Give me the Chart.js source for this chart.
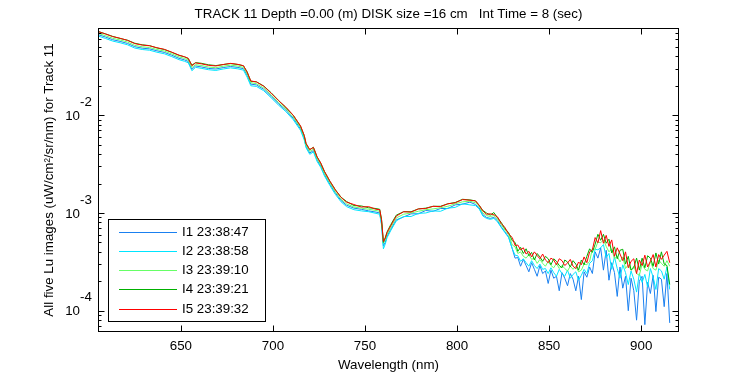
<!DOCTYPE html>
<html>
<head>
<meta charset="utf-8">
<script src="https://cdn.jsdelivr.net/npm/chart.js@4/dist/chart.umd.min.js"></script>
<style>
  html, body { margin: 0; padding: 0; background: #fff; }
</style>
</head>
<body>
<canvas id="luCanvas" width="750" height="375"></canvas>
<script>
var titleText = 'TRACK 11 Depth =0.00 (m) DISK size =16 cm   Int Time = 8 (sec)';
var xTitle = 'Wavelength (nm)';
var yTitle = 'All five Lu images (uW/cm\u00b2/sr/nm) for Track 11';
var xTicks = [650, 700, 750, 800, 850, 900];
var yTicks = [1e-4, 1e-3, 1e-2];
var yTickExp = ['-4', '-3', '-2'];
var seriesNames = ['I1 23:38:47', 'I2 23:38:58', 'I3 23:39:10', 'I4 23:39:21', 'I5 23:39:32'];
var seriesColors = ['#1a80f0', '#00e5ff', '#66ff66', '#00b000', '#ff0000'];

var wavelength = [
  605, 609, 613, 617, 621, 625, 629, 633, 637, 641,
  645, 649, 652, 654, 656, 658, 661, 665, 669, 673,
  677, 681, 684, 686, 688, 691, 695, 699, 703, 707,
  711, 715, 717, 718, 720, 722, 724, 726, 728, 731,
  734, 737, 740, 744, 748, 752, 756, 758, 759, 760,
  761, 762, 764, 767, 771, 775, 779, 783, 787, 791,
  795, 799, 803, 807, 810, 812, 814, 816, 818, 820,
  822, 824, 826, 828,
  830, 831.5, 833, 834.5, 836, 837.5, 839, 840.5, 842, 843.5,
  845, 846.5, 848, 849.5, 851, 852.5, 854, 855.5, 857, 858.5,
  860, 861.5, 863, 864.5, 866, 867.5, 869, 870.5, 872, 873.5,
  875, 876.5, 878, 879.5, 881, 882.5, 884, 885.5, 887, 888.5,
  890, 891.5, 893, 894.5, 896, 897.5, 899, 900.5, 902, 903.5,
  905, 906.5, 908, 909.5, 911, 912.5, 914, 915.5
];

var luI1 = [
  6.68e-2, 6.31e-2, 5.92e-2, 5.69e-2, 5.42e-2, 5.02e-2, 4.85e-2, 4.77e-2, 4.56e-2, 4.39e-2,
  4.11e-2, 3.82e-2, 3.68e-2, 3.55e-2, 2.95e-2, 3.19e-2, 3.12e-2, 3.01e-2, 2.97e-2, 3.07e-2,
  3.15e-2, 3.08e-2, 2.99e-2, 2.56e-2, 2.08e-2, 2.04e-2, 1.84e-2, 1.56e-2, 1.31e-2, 1.13e-2,
  9.3e-3, 7.24e-3, 5.78e-3, 4.79e-3, 4.10e-3, 4.35e-3, 3.47e-3, 3.01e-3, 2.46e-3, 1.96e-3,
  1.59e-3, 1.34e-3, 1.20e-3, 1.12e-3, 1.09e-3, 1.05e-3, 1.02e-3, 1.00e-3, 7.8e-4, 4.6e-4,
  5.0e-4, 5.8e-4, 6.8e-4, 8.5e-4, 9.1e-4, 9.8e-4, 9.8e-4, 1.06e-3, 1.04e-3, 1.11e-3,
  1.11e-3, 1.21e-3, 1.23e-3, 1.29e-3, 1.22e-3, 1.13e-3, 9.6e-4, 9.0e-4, 8.8e-4, 9.0e-4,
  8.3e-4, 7.2e-4, 6.4e-4, 5.7e-4,
  4.3e-4, 3.45e-4, 3.5e-4, 2.85e-4, 3.35e-4, 2.9e-4, 2.5e-4, 3.1e-4, 2.65e-4, 2.25e-4,
  2.9e-4, 2.4e-4, 2.55e-4, 1.9e-4, 2.6e-4, 2.15e-4, 2.25e-4, 1.6e-4, 2.45e-4, 2.15e-4,
  1.8e-4, 2.4e-4, 2.1e-4, 1.6e-4, 2.25e-4, 1.3e-4, 2.5e-4, 2.2e-4, 2.8e-4, 2.4e-4,
  4.0e-4, 3.45e-4, 4.4e-4, 2.6e-4, 4.15e-4, 2.05e-4, 3.1e-4, 2.45e-4, 1.4e-4, 2.8e-4,
  1.7e-4, 2.25e-4, 1.0e-4, 2.15e-4, 1.6e-4, 0.8e-4, 2.0e-4, 2.25e-4, 0.72e-4, 1.95e-4,
  1.5e-4, 2.3e-4, 0.98e-4, 2.2e-4, 2.1e-4, 1.1e-4, 2.4e-4, 0.75e-4
];

var luI2 = [
  6.46e-2, 6.10e-2, 5.73e-2, 5.51e-2, 5.25e-2, 4.86e-2, 4.70e-2, 4.62e-2, 4.41e-2, 4.25e-2,
  3.98e-2, 3.70e-2, 3.56e-2, 3.44e-2, 2.85e-2, 3.09e-2, 3.02e-2, 2.92e-2, 2.87e-2, 2.97e-2,
  3.05e-2, 2.98e-2, 2.89e-2, 2.45e-2, 2.00e-2, 1.97e-2, 1.78e-2, 1.51e-2, 1.27e-2, 1.09e-2,
  9.0e-3, 7.00e-3, 5.59e-3, 4.64e-3, 3.98e-3, 4.21e-3, 3.36e-3, 2.92e-3, 2.39e-3, 1.90e-3,
  1.54e-3, 1.30e-3, 1.16e-3, 1.08e-3, 1.05e-3, 1.03e-3, 9.9e-4, 9.7e-4, 7.5e-4, 4.3e-4,
  4.8e-4, 5.6e-4, 6.6e-4, 8.3e-4, 9.2e-4, 9.2e-4, 9.9e-4, 1.00e-3, 1.05e-3, 1.04e-3,
  1.12e-3, 1.14e-3, 1.24e-3, 1.21e-3, 1.19e-3, 1.10e-3, 9.3e-4, 8.8e-4, 8.6e-4, 8.8e-4,
  8.1e-4, 7.1e-4, 6.3e-4, 5.6e-4,
  4.3e-4, 3.7e-4, 3.65e-4, 3.2e-4, 3.4e-4, 3.1e-4, 2.85e-4, 3.25e-4, 2.9e-4, 2.7e-4,
  3.0e-4, 2.65e-4, 2.7e-4, 2.4e-4, 2.75e-4, 2.45e-4, 2.25e-4, 2.65e-4, 2.4e-4, 2.25e-4,
  2.6e-4, 2.15e-4, 2.35e-4, 2.5e-4, 2.05e-4, 2.3e-4, 2.65e-4, 2.4e-4, 3.05e-4, 3.25e-4,
  4.25e-4, 4.2e-4, 4.4e-4, 4.75e-4, 3.5e-4, 3.85e-4, 2.65e-4, 3.55e-4, 2.7e-4, 2.15e-4,
  2.95e-4, 2.45e-4, 1.85e-4, 2.55e-4, 2.1e-4, 1.55e-4, 2.4e-4, 1.95e-4, 2.35e-4, 1.75e-4,
  2.7e-4, 2.2e-4, 1.65e-4, 2.7e-4, 2.55e-4, 2.1e-4, 2.8e-4, 1.65e-4
];

var luI3 = [
  6.90e-2, 6.51e-2, 6.12e-2, 5.88e-2, 5.60e-2, 5.18e-2, 5.01e-2, 4.92e-2, 4.70e-2, 4.53e-2,
  4.24e-2, 3.95e-2, 3.80e-2, 3.67e-2, 3.08e-2, 3.29e-2, 3.23e-2, 3.11e-2, 3.06e-2, 3.17e-2,
  3.25e-2, 3.18e-2, 3.08e-2, 2.64e-2, 2.15e-2, 2.10e-2, 1.90e-2, 1.61e-2, 1.35e-2, 1.16e-2,
  9.6e-3, 7.47e-3, 5.96e-3, 4.94e-3, 4.26e-3, 4.49e-3, 3.58e-3, 3.11e-3, 2.54e-3, 2.03e-3,
  1.64e-3, 1.38e-3, 1.24e-3, 1.15e-3, 1.12e-3, 1.09e-3, 1.06e-3, 1.04e-3, 8.2e-4, 4.9e-4,
  5.3e-4, 6.0e-4, 7.1e-4, 8.9e-4, 9.7e-4, 1.00e-3, 1.04e-3, 1.08e-3, 1.10e-3, 1.13e-3,
  1.17e-3, 1.24e-3, 1.30e-3, 1.32e-3, 1.27e-3, 1.17e-3, 1.00e-3, 9.4e-4, 9.2e-4, 9.4e-4,
  8.6e-4, 7.6e-4, 6.7e-4, 6.0e-4,
  4.7e-4, 4.5e-4, 3.85e-4, 4.0e-4, 3.6e-4, 3.45e-4, 3.75e-4, 3.35e-4, 3.45e-4, 3.05e-4,
  3.35e-4, 3.05e-4, 2.85e-4, 3.2e-4, 2.9e-4, 2.75e-4, 3.05e-4, 2.7e-4, 2.9e-4, 2.7e-4,
  2.55e-4, 2.85e-4, 2.65e-4, 2.85e-4, 2.5e-4, 2.6e-4, 3.0e-4, 2.95e-4, 3.2e-4, 4.3e-4,
  4.25e-4, 5.05e-4, 4.95e-4, 5.3e-4, 4.55e-4, 4.0e-4, 4.3e-4, 3.4e-4, 3.6e-4, 3.15e-4,
  3.55e-4, 2.7e-4, 2.95e-4, 2.6e-4, 2.85e-4, 2.4e-4, 2.3e-4, 3.0e-4, 2.65e-4, 2.55e-4,
  3.2e-4, 2.7e-4, 2.6e-4, 3.3e-4, 3.05e-4, 2.85e-4, 3.25e-4, 2.85e-4
];

var luI4 = [
  7.20e-2, 6.80e-2, 6.40e-2, 6.10e-2, 5.85e-2, 5.45e-2, 5.25e-2, 5.15e-2, 4.88e-2, 4.70e-2,
  4.40e-2, 4.10e-2, 3.95e-2, 3.80e-2, 3.25e-2, 3.45e-2, 3.40e-2, 3.28e-2, 3.22e-2, 3.30e-2,
  3.38e-2, 3.30e-2, 3.20e-2, 2.78e-2, 2.22e-2, 2.20e-2, 1.99e-2, 1.70e-2, 1.42e-2, 1.20e-2,
  1.00e-2, 7.70e-3, 6.20e-3, 5.10e-3, 4.45e-3, 4.70e-3, 3.75e-3, 3.22e-3, 2.66e-3, 2.10e-3,
  1.72e-3, 1.45e-3, 1.31e-3, 1.19e-3, 1.18e-3, 1.13e-3, 1.11e-3, 1.09e-3, 8.6e-4, 5.0e-4,
  5.6e-4, 6.4e-4, 7.6e-4, 9.5e-4, 1.03e-3, 1.03e-3, 1.10e-3, 1.12e-3, 1.17e-3, 1.17e-3,
  1.24e-3, 1.28e-3, 1.38e-3, 1.36e-3, 1.33e-3, 1.20e-3, 1.06e-3, 1.00e-3, 9.5e-4, 1.01e-3,
  8.9e-4, 8.0e-4, 6.9e-4, 6.3e-4,
  5.2e-4, 5.0e-4, 4.05e-4, 4.45e-4, 3.85e-4, 4.3e-4, 3.65e-4, 3.95e-4, 3.3e-4, 3.85e-4,
  3.55e-4, 3.2e-4, 3.6e-4, 3.4e-4, 2.95e-4, 3.4e-4, 3.2e-4, 2.9e-4, 2.75e-4, 3.3e-4,
  3.15e-4, 2.8e-4, 3.25e-4, 3.0e-4, 2.6e-4, 3.3e-4, 2.95e-4, 3.6e-4, 4.3e-4, 3.95e-4,
  4.8e-4, 6.05e-4, 5.25e-4, 6.05e-4, 4.9e-4, 5.4e-4, 3.9e-4, 4.5e-4, 3.4e-4, 4.15e-4,
  4.25e-4, 3.0e-4, 3.6e-4, 2.6e-4, 2.75e-4, 3.45e-4, 2.6e-4, 3.45e-4, 2.75e-4, 3.65e-4,
  3.45e-4, 2.85e-4, 3.9e-4, 3.0e-4, 4.0e-4, 3.0e-4, 2.9e-4, 1.85e-4
];

var luI5 = [
  7.18e-2, 6.78e-2, 6.37e-2, 6.12e-2, 5.83e-2, 5.40e-2, 5.22e-2, 5.13e-2, 4.90e-2, 4.72e-2,
  4.42e-2, 4.11e-2, 3.96e-2, 3.82e-2, 3.21e-2, 3.43e-2, 3.36e-2, 3.24e-2, 3.19e-2, 3.30e-2,
  3.39e-2, 3.31e-2, 3.21e-2, 2.75e-2, 2.24e-2, 2.19e-2, 1.98e-2, 1.68e-2, 1.41e-2, 1.21e-2,
  1.00e-2, 7.78e-3, 6.21e-3, 5.15e-3, 4.44e-3, 4.68e-3, 3.73e-3, 3.24e-3, 2.65e-3, 2.11e-3,
  1.71e-3, 1.44e-3, 1.29e-3, 1.22e-3, 1.15e-3, 1.16e-3, 1.09e-3, 1.08e-3, 8.5e-4, 5.1e-4,
  5.5e-4, 6.3e-4, 7.4e-4, 9.3e-4, 1.03e-3, 1.02e-3, 1.10e-3, 1.11e-3, 1.17e-3, 1.16e-3,
  1.24e-3, 1.27e-3, 1.37e-3, 1.35e-3, 1.33e-3, 1.20e-3, 1.05e-3, 9.7e-4, 9.8e-4, 9.6e-4,
  9.1e-4, 7.8e-4, 7.1e-4, 6.1e-4,
  5.6e-4, 4.65e-4, 4.7e-4, 4.2e-4, 4.4e-4, 3.8e-4, 4.05e-4, 3.55e-4, 4.0e-4, 3.67e-4,
  3.4e-4, 3.8e-4, 3.3e-4, 3.1e-4, 3.45e-4, 3.3e-4, 2.95e-4, 3.4e-4, 3.25e-4, 2.9e-4,
  3.07e-4, 3.35e-4, 2.85e-4, 2.7e-4, 3.15e-4, 2.95e-4, 3.55e-4, 3.1e-4, 4.0e-4, 4.2e-4,
  5.6e-4, 4.95e-4, 6.6e-4, 4.9e-4, 5.9e-4, 4.55e-4, 5.3e-4, 3.6e-4, 4.4e-4, 3.8e-4,
  3.25e-4, 4.0e-4, 2.75e-4, 3.2e-4, 3.4e-4, 2.4e-4, 3.3e-4, 2.9e-4, 3.7e-4, 2.8e-4,
  3.2e-4, 3.75e-4, 2.8e-4, 3.75e-4, 3.35e-4, 3.7e-4, 4.05e-4, 3.1e-4
];

var FONT = '"Liberation Sans", Arial, sans-serif';
var FONT_SIZE = '13.33px ';

function toPoints(values) {
    return wavelength.map(function (w, i) { return { x: w, y: values[i] }; });
}

var allSeries = [luI1, luI2, luI3, luI4, luI5];

// MATLAB-like box, inward ticks, labels, title and legend
var matlabAxes = {
    id: 'matlabAxes',
    afterDatasetsDraw: function (chart) {
        var ctx = chart.ctx;
        var a = chart.chartArea;
        var xs = chart.scales.x;
        var ys = chart.scales.y;
        var L = Math.round(a.left) + 0.5, R = Math.round(a.right) + 0.5;
        var T = Math.round(a.top) + 0.5, B = Math.round(a.bottom) + 0.5;

        ctx.save();
        ctx.strokeStyle = '#000';
        ctx.lineWidth = 1;
        ctx.strokeRect(L, T, R - L, B - T);

        ctx.beginPath();
        xTicks.forEach(function (v) {
            var px = Math.round(xs.getPixelForValue(v)) + 0.5;
            ctx.moveTo(px, B); ctx.lineTo(px, B - 6);
            ctx.moveTo(px, T); ctx.lineTo(px, T + 6);
        });
        for (var e = -5; e <= -1; e++) {
            for (var m = 1; m <= 9; m++) {
                var v = m * Math.pow(10, e);
                if (v < ys.min || v > ys.max) continue;
                var py = Math.round(ys.getPixelForValue(v)) + 0.5;
                var len = m === 1 ? 6 : 3;
                ctx.moveTo(L, py); ctx.lineTo(L + len, py);
                ctx.moveTo(R, py); ctx.lineTo(R - len, py);
            }
        }
        ctx.stroke();

        ctx.fillStyle = '#000';
        ctx.font = FONT_SIZE + FONT;
        ctx.textAlign = 'center';
        ctx.textBaseline = 'middle';
        xTicks.forEach(function (v) {
            ctx.fillText(String(v), xs.getPixelForValue(v), B + 15);
        });
        ctx.fillText(xTitle, (L + R) / 2, B + 34);

        yTicks.forEach(function (v, i) {
            var py = ys.getPixelForValue(v);
            ctx.textAlign = 'right';
            ctx.fillText('10', 80, py + 1);
            ctx.textAlign = 'left';
            ctx.fillText(yTickExp[i], 80, py - 13);
        });

        ctx.save();
        ctx.translate(49, (T + B) / 2);
        ctx.rotate(-Math.PI / 2);
        ctx.textAlign = 'center';
        ctx.fillText(yTitle, 0, 0);
        ctx.restore();

        ctx.textAlign = 'center';
        ctx.fillText(titleText, (L + R) / 2, 14);

        // legend box
        var bx = 108.5, by = 219.5, bw = 157, bh = 102;
        ctx.fillStyle = '#fff';
        ctx.fillRect(bx, by, bw, bh);
        ctx.strokeRect(bx, by, bw, bh);
        ctx.textAlign = 'left';
        chart.data.datasets.forEach(function (ds, i) {
            var ry = Math.round(by + 12 + i * 19.3) + 0.5;
            ctx.strokeStyle = ds.borderColor;
            ctx.beginPath();
            ctx.moveTo(119, ry); ctx.lineTo(177, ry);
            ctx.stroke();
            ctx.fillStyle = '#000';
            ctx.fillText(ds.label, 182, ry);
        });
        ctx.restore();
    }
};

var datasets = allSeries.map(function (vals, i) {
    return {
        label: seriesNames[i],
        data: toPoints(vals),
        borderColor: seriesColors[i],
        backgroundColor: seriesColors[i],
        borderWidth: 1,
        pointRadius: 0,
        fill: false,
        tension: 0,
        order: 5 - i
    };
});

var luChart = new Chart(document.getElementById('luCanvas'), {
    type: 'line',
    data: { datasets: datasets },
    options: {
        responsive: false,
        animation: false,
        devicePixelRatio: 1,
        layout: { padding: { left: 98, right: 72, top: 28, bottom: 44 } },
        plugins: { legend: { display: false }, tooltip: { enabled: false } },
        scales: {
            x: {
                type: 'linear', min: 605, max: 920,
                display: false
            },
            y: {
                type: 'logarithmic', min: 6.2e-5, max: 7.8e-2,
                display: false
            }
        }
    },
    plugins: [matlabAxes]
});
</script>
</body>
</html>
